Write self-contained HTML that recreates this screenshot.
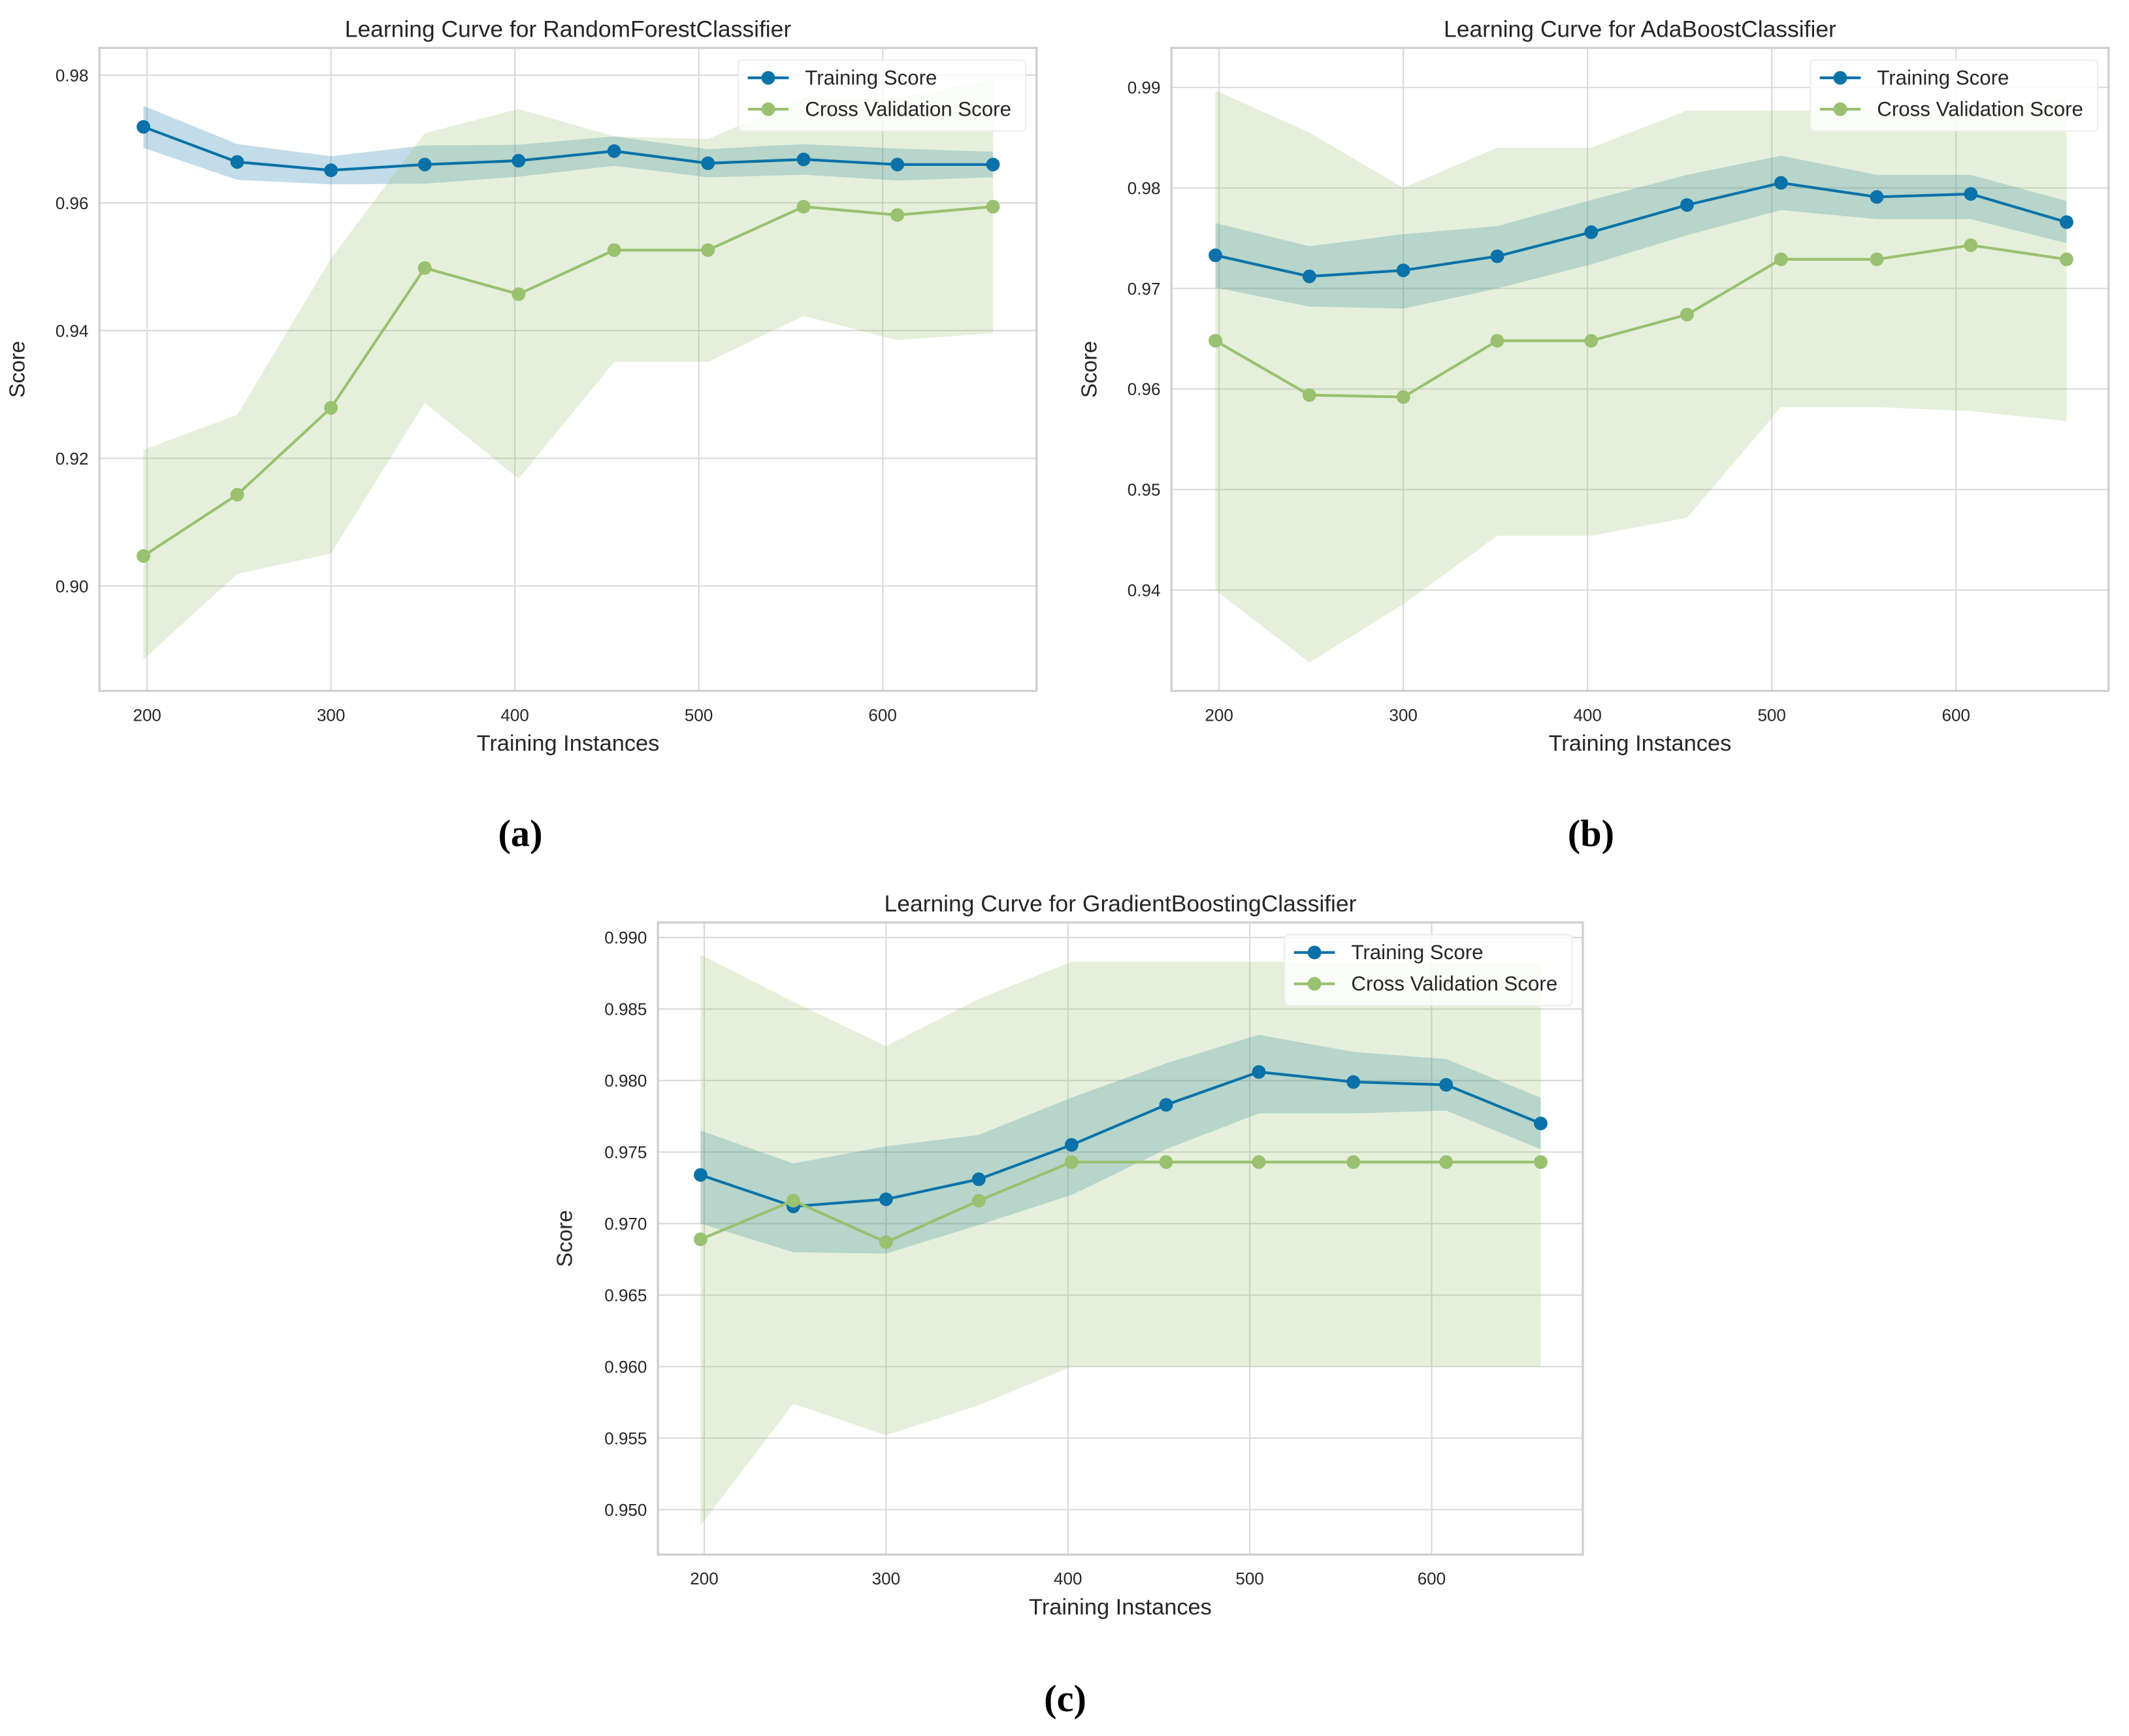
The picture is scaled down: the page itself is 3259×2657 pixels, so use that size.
<!DOCTYPE html>
<html><head><meta charset="utf-8">
<style>
html,body{margin:0;padding:0;background:#fff;}
svg{display:block;}
text{font-family:"Liberation Sans",sans-serif;fill:#262626;}
.cap{font-family:"Liberation Serif",serif;font-weight:bold;fill:#000;}
</style></head>
<body>
<svg id="fig" width="3259" height="2657" viewBox="0 0 1563 1274" xmlns="http://www.w3.org/2000/svg">
<text class="cap" x="382" y="621" font-size="28" text-anchor="middle">(a)</text>
<text class="cap" x="1168" y="621" font-size="28" text-anchor="middle">(b)</text>
<text class="cap" x="782" y="1256" font-size="28" text-anchor="middle">(c)</text>
</svg>
<script>
// shared x (training instances)
const xSizes = [198, 249, 300, 351, 402, 454, 505, 557, 608, 660];
const xTicks = [200, 300, 400, 500, 600];

// chart A: RandomForest
const aTrain = [0.9719, 0.9664, 0.9651, 0.9660, 0.9666, 0.9681, 0.9662, 0.9668, 0.9660, 0.9660];
const aTrainHi = [0.9752, 0.9692, 0.9673, 0.9690, 0.9691, 0.9704, 0.9684, 0.9692, 0.9685, 0.9680];
const aTrainLo = [0.9686, 0.9636, 0.9629, 0.9630, 0.9641, 0.9658, 0.9640, 0.9644, 0.9635, 0.9640];
const aCv = [0.9047, 0.9143, 0.9279, 0.9498, 0.9457, 0.9526, 0.9526, 0.9594, 0.9581, 0.9594];
const aCvHi = [0.9213, 0.9268, 0.9513, 0.9709, 0.9747, 0.9704, 0.9700, 0.9764, 0.9764, 0.9793];
const aCvLo = [0.8885, 0.9019, 0.9051, 0.9287, 0.9168, 0.9351, 0.9351, 0.9423, 0.9385, 0.9396];
const aYTicks = [0.90, 0.92, 0.94, 0.96, 0.98];
const aYLabels = ["0.90", "0.92", "0.94", "0.96", "0.98"];

// chart B: AdaBoost
const bTrain = [0.9733, 0.9712, 0.9718, 0.9732, 0.9756, 0.9783, 0.9805, 0.9791, 0.9794, 0.9766];
const bTrainHi = [0.9765, 0.9742, 0.9754, 0.9762, 0.9788, 0.9813, 0.9832, 0.9813, 0.9813, 0.9787];
const bTrainLo = [0.9701, 0.9682, 0.9680, 0.9700, 0.9724, 0.9753, 0.9778, 0.9769, 0.9769, 0.9745];
const bCv = [0.9648, 0.9594, 0.9592, 0.9648, 0.9648, 0.9674, 0.9729, 0.9729, 0.9743, 0.9729];
const bCvHi = [0.9897, 0.9855, 0.9800, 0.9840, 0.9840, 0.9877, 0.9877, 0.9877, 0.9877, 0.9890];
const bCvLo = [0.9400, 0.9328, 0.9386, 0.9454, 0.9454, 0.9472, 0.9582, 0.9582, 0.9578, 0.9568];
const bYTicks = [0.94, 0.95, 0.96, 0.97, 0.98, 0.99];
const bYLabels = ["0.94", "0.95", "0.96", "0.97", "0.98", "0.99"];

// chart C: GradientBoosting
const cTrain = [0.9734, 0.9712, 0.9717, 0.9731, 0.9755, 0.9783, 0.9806, 0.9799, 0.9797, 0.9770];
const cTrainHi = [0.9765, 0.9742, 0.9754, 0.9762, 0.9788, 0.9812, 0.9832, 0.9820, 0.9815, 0.9788];
const cTrainLo = [0.9700, 0.9680, 0.9679, 0.9699, 0.9720, 0.9752, 0.9777, 0.9777, 0.9779, 0.9752];
const cCv = [0.9689, 0.9716, 0.9687, 0.9716, 0.9743, 0.9743, 0.9743, 0.9743, 0.9743, 0.9743];
const cCvHi = [0.9888, 0.9855, 0.9824, 0.9857, 0.9883, 0.9883, 0.9883, 0.9883, 0.9883, 0.9883];
const cCvLo = [0.9489, 0.9574, 0.9552, 0.9573, 0.9600, 0.9600, 0.9600, 0.9600, 0.9600, 0.9600];
const cYTicks = [0.950, 0.955, 0.960, 0.965, 0.970, 0.975, 0.980, 0.985, 0.990];
const cYLabels = ["0.950", "0.955", "0.960", "0.965", "0.970", "0.975", "0.980", "0.985", "0.990"];

const NS = "http://www.w3.org/2000/svg";
const svg = document.getElementById("fig");
const BLUE = "#0a72a8", GREEN = "#99c16f";

function mk(tag, attrs, parent) {
  const e = document.createElementNS(NS, tag);
  for (const k in attrs) e.setAttribute(k, attrs[k]);
  (parent || svg).appendChild(e);
  return e;
}

// xm: [v1, px1, v2, px2]; ym: [v1, py1, v2, py2]
function drawChart(key, title, box, xm, ym, yTicks, yLabels, tr, trHi, trLo, cv, cvHi, cvLo) {
  const g = mk("g", {});
  
  
  const X = v => xm[1] + (v - xm[0]) / (xm[2] - xm[0]) * (xm[3] - xm[1]);
  const Y = v => ym[1] + (v - ym[0]) / (ym[2] - ym[0]) * (ym[3] - ym[1]);
  mk("rect", {x: box.l, y: box.t, width: box.r - box.l, height: box.b - box.t, fill: "#fff"}, g);
  xTicks.forEach(t => {
    const l = mk("line", {x1: X(t), x2: X(t), y1: box.t, y2: box.b, stroke: "#d9d9d9", "stroke-width": 1}, g);
    
    
    const tx = mk("text", {x: X(t), y: box.b + 22, "font-size": 12.5, "text-anchor": "middle"}, g);
    tx.textContent = t;
    
    
  });
  yTicks.forEach((t, i) => {
    const l = mk("line", {x1: box.l, x2: box.r, y1: Y(t), y2: Y(t), stroke: "#d9d9d9", "stroke-width": 1}, g);
    
    
    const tx = mk("text", {x: box.l - 8, y: Y(t) + 4.5, "font-size": 12.5, "text-anchor": "end"}, g);
    tx.textContent = yLabels[i];
    
    
  });
  const band = (hi, lo, fill, op, name) => {
    let d = xSizes.map((x, i) => (i ? "L" : "M") + X(x) + "," + Y(hi[i])).join("");
    for (let i = xSizes.length - 1; i >= 0; i--) d += "L" + X(xSizes[i]) + "," + Y(lo[i]);
    const p = mk("path", {d: d + "Z", fill: fill, "fill-opacity": op}, g);
    
    
  };
  band(trHi, trLo, BLUE, 0.25, 'training-score-band');
  band(cvHi, cvLo, GREEN, 0.25, 'cv-score-band');
  const series = (vals, col, name) => {
    const d = xSizes.map((x, i) => (i ? "L" : "M") + X(x) + "," + Y(vals[i])).join("");
    const p = mk("path", {d: d, fill: "none", stroke: col, "stroke-width": 2}, g);
    
    
    vals.forEach((v, i) => {
      const c = mk("circle", {cx: X(xSizes[i]), cy: Y(v), r: 5, fill: col}, g);
      
      
    });
  };
  series(tr, BLUE, 'training-score');
  series(cv, GREEN, 'cv-score');
  mk("rect", {x: box.l, y: box.t, width: box.r - box.l, height: box.b - box.t, fill: "none", stroke: "#cfcfcf", "stroke-width": 1.6}, g);
  const tt = mk("text", {x: (box.l + box.r) / 2, y: box.t - 8, "font-size": 17, "text-anchor": "middle"}, g);
  tt.textContent = title;
  
  
  const xl = mk("text", {x: (box.l + box.r) / 2, y: box.b + 44, "font-size": 16.5, "text-anchor": "middle"}, g);
  xl.textContent = "Training Instances";
  
  
  const yx = box.l - box.yoff, yy = (box.t + box.b) / 2;
  const yl = mk("text", {x: yx, y: yy, "font-size": 16, "text-anchor": "middle", transform: "rotate(-90 " + yx + " " + yy + ")"}, g);
  yl.textContent = "Score";
  
  
  const lg = mk("g", {}, g);
  
  
  const lx = box.r - 219, ly = box.t + 9;
  mk("rect", {x: lx, y: ly, width: 211, height: 52, rx: 3, fill: "#fff", "fill-opacity": 0.8, stroke: "#eeeeee"}, lg);
  [["Training Score", BLUE], ["Cross Validation Score", GREEN]].forEach((e, i) => {
    const yy2 = ly + 13 + i * 23;
    const en = mk("g", {}, lg);
    
    
    mk("line", {x1: lx + 7, x2: lx + 37, y1: yy2, y2: yy2, stroke: e[1], "stroke-width": 2}, en);
    mk("circle", {cx: lx + 22, cy: yy2, r: 5, fill: e[1]}, en);
    const t = mk("text", {x: lx + 49, y: yy2 + 5, "font-size": 15}, en);
    t.textContent = e[0];
  });
}

drawChart('random-forest', 'Learning Curve for RandomForestClassifier', {l: 73, r: 761, t: 35, b: 507, yoff: 55},
  [200, 108, 600, 648], [0.98, 55, 0.90, 430], aYTicks, aYLabels, aTrain, aTrainHi, aTrainLo, aCv, aCvHi, aCvLo);
drawChart('adaboost', 'Learning Curve for AdaBoostClassifier', {l: 860, r: 1548, t: 35, b: 507, yoff: 55},
  [200, 895, 600, 1436], [0.99, 64, 0.94, 433], bYTicks, bYLabels, bTrain, bTrainHi, bTrainLo, bCv, bCvHi, bCvLo);
drawChart('gradient-boosting', 'Learning Curve for GradientBoostingClassifier', {l: 483, r: 1162, t: 677, b: 1141, yoff: 63},
  [200, 517, 600, 1051], [0.990, 688, 0.950, 1108], cYTicks, cYLabels, cTrain, cTrainHi, cTrainLo, cCv, cCvHi, cCvLo);
</script>
</body></html>
